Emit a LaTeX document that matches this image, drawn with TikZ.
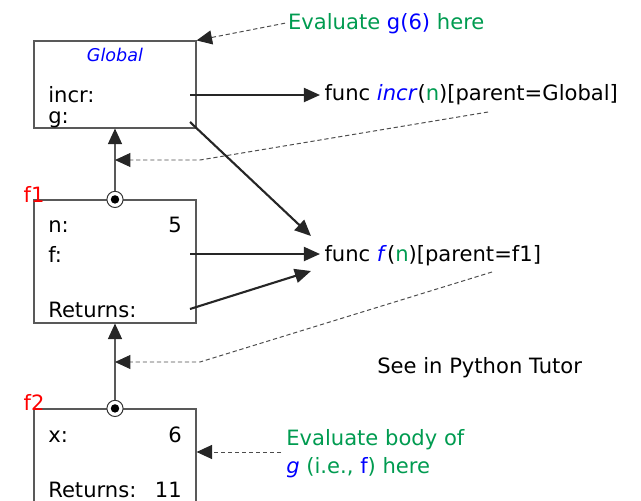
\documentclass[tikz,border=0pt]{standalone}
\usepackage{fontspec}
\setmainfont{DejaVu Sans}
\usetikzlibrary{arrows.meta}
\definecolor{evalgreen}{RGB}{0,155,80}
\definecolor{nameblue}{RGB}{0,0,255}
\definecolor{framered}{RGB}{255,0,0}

\begin{document}
\begin{tikzpicture}[x=0.025cm,y=-0.025cm,
  frame/.style={draw=black!65,line width=0.8pt,rectangle,inner sep=0,minimum width=4.05cm},
  lbl/.style={anchor=base west,inner sep=0,font=\fontsize{15}{18}\selectfont},
  val/.style={anchor=base east,inner sep=0,font=\fontsize{15}{18}\selectfont},
  framename/.style={anchor=base,inner sep=0,text=framered,font=\fontsize{15}{18}\selectfont},
  ptr/.style={line width=1.5pt,black!85,-{Triangle[length=11.5pt,width=10pt]}},
  parentlink/.style={draw=black!65,line width=0.8pt,-{Triangle[length=11pt,width=10pt,color=black!85]}},
  envlink/.style={black!70,line width=0.7pt,dash pattern=on 3pt off 2pt,-{Triangle[length=11pt,width=10pt,color=black!85]}},
  pin/.style={circle,draw=black!80,fill=white,line width=0.7pt,minimum size=11.5pt,inner sep=0},
  pindot/.style={circle,fill=black,minimum size=6pt,inner sep=0}]
\useasboundingbox (0,0) rectangle (641,501);

% frames
\node (global) at (115,84.5) [frame,minimum height=2.175cm]{};
\node (f1) at (115,261.5) [frame,minimum height=3.075cm]{};
\node (f2) at (115,469) [frame,minimum height=3cm]{};

% parent links
\node (f1pin) at (f1.north) [pin]{};
\node (f1dot) at (f1.north) [pindot]{};
\node (f2pin) at (f2.north) [pin]{};
\node (f2dot) at (f2.north) [pindot]{};
\draw [parentlink] (f1pin) -- (global.south);
\draw [parentlink] (f2pin) -- (f1.south);

% frame contents
\node (globalname) at (115,55) [text=nameblue,font=\fontsize{12.5}{14}\selectfont\itshape]{Global};
\node (incrlbl) at (48,102) [lbl]{incr:};
\node (glbl) at (48,123) [lbl]{g:};
\node (f1name) at (34,202) [framename]{f1};
\node (nlbl) at (48,232) [lbl]{n:};
\node (nval) at (182,232) [val]{5};
\node (flbl) at (48,262) [lbl]{f:};
\node (retlbl) at (48,317) [lbl]{Returns:};
\node (f2name) at (34,410) [framename]{f2};
\node (xlbl) at (48,442) [lbl]{x:};
\node (xval) at (182,442) [val]{6};
\node (rettwolbl) at (48,497) [lbl]{Returns:};
\node (rettwoval) at (182,497) [val]{11};

% function values
\node (incrfunc) at (320,100) [lbl,inner sep=3pt]{func \textcolor{nameblue}{\textit{incr}}(\textcolor{evalgreen}{n})[parent=Global]};
\node (ffunc) at (320,261) [lbl,inner sep=3pt]{func \textcolor{nameblue}{\textit{f}}(\textcolor{evalgreen}{n})[parent=f1]};

% notes
\node (evalg) at (285,29) [lbl,inner sep=2pt,text=evalgreen]{Evaluate \textcolor{nameblue}{g(6)} here};
\node (tutor) at (377,373) [lbl]{See in Python Tutor};
\node (evalbodya) at (286,445) [lbl,text=evalgreen]{Evaluate body of};
\node (evalbodyb) at (286,473) [lbl,text=evalgreen]{\textcolor{nameblue}{\textit{g}} (i.e., \textcolor{nameblue}{f}) here};

% pointers
\coordinate (incrptr) at (190,95);
\coordinate (gptr) at (190,122);
\coordinate (gend) at (311,236);
\coordinate (fptr) at (190,254);
\coordinate (retptr) at (190,309);
\coordinate (retend) at (311,271);
\draw [ptr] (incrptr) -- (incrptr -| incrfunc.west);
\draw [ptr] (gptr) -- (gend);
\draw [ptr] (fptr) -- (fptr -| ffunc.west);
\draw [ptr] (retptr) -- (retend);

% environment hints
\coordinate (increnv) at (488,112);
\coordinate (incrbend) at (200,160);
\coordinate (fenv) at (492,272);
\coordinate (fbend) at (200,362);
\coordinate (bodyptr) at (281,452);
\draw [envlink] (evalg.west) -- (global.north east);
\draw [envlink] (increnv) -- (incrbend) -- (incrbend -| global.south);
\draw [envlink] (fenv) -- (fbend) -- (fbend -| f1.south);
\draw [envlink] (bodyptr) -- (bodyptr -| f2.east);
\end{tikzpicture}
\end{document}
